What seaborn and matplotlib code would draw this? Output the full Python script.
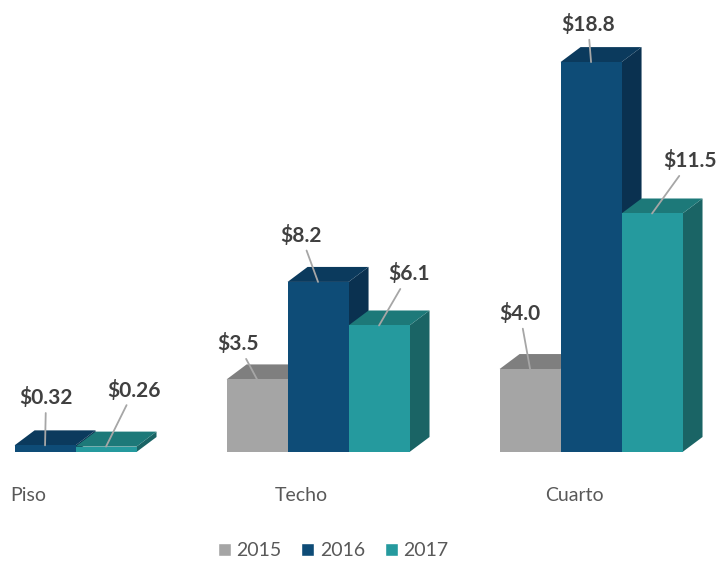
import matplotlib
matplotlib.use("Agg")
from matplotlib import pyplot as plt
from matplotlib.patches import Polygon
from matplotlib.colors import to_hex
import pandas as pd
import seaborn as sns

# Data
categories = ["Piso", "Techo", "Cuarto"]
years = ["2015", "2016", "2017"]
values_2015 = [None, 3.5, 4.0]
values_2016 = [0.32, 8.2, 18.8]
values_2017 = [0.26, 6.1, 11.5]
labels_2015 = [None, "$3.5", "$4.0"]
labels_2016 = ["$0.32", "$8.2", "$18.8"]
labels_2017 = ["$0.26", "$6.1", "$11.5"]

# Styling (colours of front / top / side faces)
front_colors = {"2015": "#A5A5A5", "2016": "#0E4C77", "2017": "#259A9E"}
top_colors = {"2015": "#7F7F7F", "2016": "#0B3A5D", "2017": "#1D7979"}
side_colors = {"2015": "#767676", "2016": "#0A3150", "2017": "#1A6465"}

# label offsets in pixels (dx, up) from the top of each bar
label_offsets = {
    "2015": [None, (-19, 29), (-10, 49)],
    "2016": [(1, 41), (-17, 40), (-3, 31)],
    "2017": [(28, 50), (30, 45), (38, 46)],
}

rows = []
for year, vals in zip(years, [values_2015, values_2016, values_2017]):
    for cat, v in zip(categories, vals):
        if v is not None:
            rows.append({"Categoria": cat, "Año": year, "Valor": v})
df = pd.DataFrame(rows)
labels = {"2015": labels_2015, "2016": labels_2016, "2017": labels_2017}

sns.set_style("white")
plt.rcParams["font.family"] = ["Lato", "DejaVu Sans"]

fig = plt.figure(figsize=(7.18, 5.61), dpi=100)
ax = fig.add_axes([0, 0, 1, 1])

ax = sns.barplot(
    data=df, x="Categoria", y="Valor", hue="Año",
    order=categories, hue_order=years,
    palette=[front_colors[y] for y in years],
    saturation=1, width=0.67, errorbar=None, ax=ax,
)

ax.set_xlim(-0.165, 2.465)
ax.set_ylim(-5.256, 21.794)
ax.set_axis_off()

dx, dy = 0.0733, 0.723
color_to_year = {to_hex(c): y for y, c in front_colors.items()}

# only the real bars (seaborn also leaves zero-size legend patches)
bars = []
for p in ax.patches:
    year = color_to_year.get(to_hex(p.get_facecolor()))
    if year is None or p.get_width() <= 0 or not p.get_height() > 0:
        continue
    bars.append((p.get_x(), year, p))
bars.sort(key=lambda b: b[0])

for k, (x0, year, p) in enumerate(bars):
    w, h = p.get_width(), p.get_height()
    base = 2 + 3 * k
    side = Polygon([(x0 + w, 0), (x0 + w + dx, dy), (x0 + w + dx, h + dy), (x0 + w, h)],
                   closed=True, facecolor=side_colors[year], edgecolor="none", zorder=base)
    top = Polygon([(x0, h), (x0 + w, h), (x0 + w + dx, h + dy), (x0 + dx, h + dy)],
                  closed=True, facecolor=top_colors[year], edgecolor="none", zorder=base + 1)
    ax.add_patch(side)
    ax.add_patch(top)
    p.set_zorder(base + 2)
    p.set_edgecolor("none")

    ci = int(round(x0 + w / 2))
    txt = labels[year][ci]
    off = label_offsets[year][ci]
    if txt is None:
        continue
    ax.annotate(
        txt, xy=(x0 + w / 2, h), xytext=off, textcoords="offset pixels",
        ha="center", va="baseline", fontsize=15, fontweight="bold", color="#404040",
        arrowprops=dict(arrowstyle="-", color="#A6A6A6", lw=1.3, shrinkA=1, shrinkB=0),
        zorder=100,
    )

for i, cat in enumerate(categories):
    ax.annotate(cat, xy=(i, 0), xytext=(-17, -49), textcoords="offset pixels",
                ha="center", va="baseline", fontsize=14, color="#595959")

sns.move_legend(
    ax, "center", bbox_to_anchor=(0.464, 0.018), ncol=3, frameon=False, title=None,
    fontsize=14, handlelength=0.67, handleheight=0.67, handletextpad=0.3,
    columnspacing=1.0,
)
for t in ax.get_legend().get_texts():
    t.set_color("#595959")

fig.savefig("out.png", dpi=100)
